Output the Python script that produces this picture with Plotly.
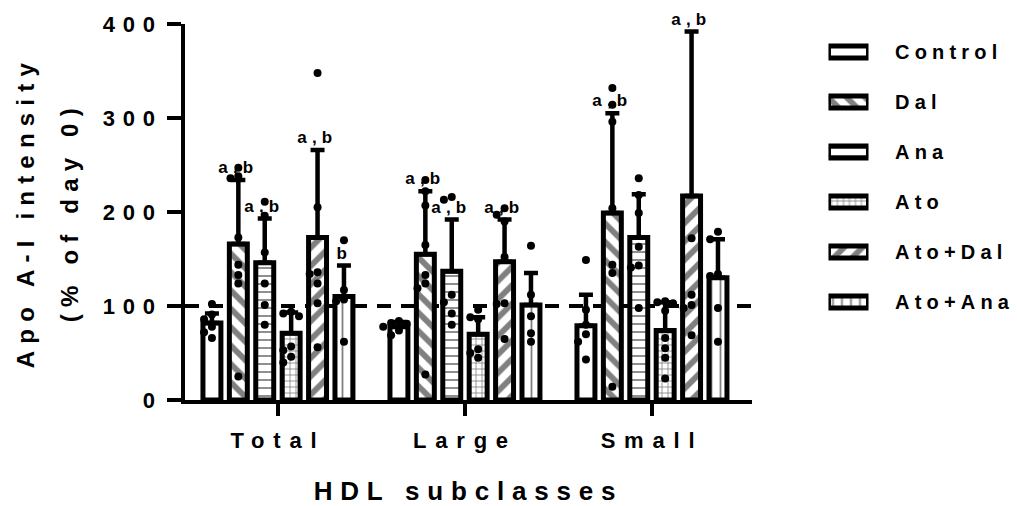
import plotly.graph_objects as go

# ---------------- data ----------------
categories = ["Total", "Large", "Small"]
groups = ["Control", "Dal", "Ana", "Ato", "Ato+Dal", "Ato+Ana"]

mean_control = [82, 78, 79]
mean_dal = [166, 155, 199]
mean_ana = [146, 137, 173]
mean_ato = [71, 70, 74]
mean_ato_dal = [173, 147, 217]
mean_ato_ana = [110, 101, 130]

sd_control = [10, 5, 33]
sd_dal = [68, 67, 106]
sd_ana = [47, 55, 46]
sd_ato = [22, 18, 30]
sd_ato_dal = [93, 45, 175]
sd_ato_ana = [33, 34, 41]

pts_control = [[102, 91, 86, 78, 72, 66], [84, 82, 81, 78, 74, 69], [149, 96, 80, 70, 62, 43]]
pts_dal = [[247, 238, 236, 173, 144, 133, 124, 25], [234, 222, 207, 165, 133, 124, 119, 27],
           [332, 314, 296, 204, 144, 135, 14]]
pts_ana = [[211, 196, 157, 124, 101, 80], [216, 213, 112, 104, 92, 80], [236, 218, 199, 163, 143, 141, 98]]
pts_ato = [[94, 92, 89, 57, 53, 46, 40], [96, 88, 86, 54, 50, 45], [105, 104, 103, 95, 66, 55, 45, 23]]
pts_ato_dal = [[348, 205, 136, 134, 124, 103, 56], [204, 197, 190, 152, 103, 102, 65], [172, 112, 101, 98, 69]]
pts_ato_ana = [[170, 117, 107, 105, 62], [164, 112, 89, 71, 62], [179, 171, 134, 132, 98, 62]]

sig_control = ["", "", ""]
sig_dal = ["a,b", "a,b", "a,b"]
sig_ana = ["a,b", "a,b", ""]
sig_ato = ["", "", ""]
sig_ato_dal = ["a,b", "a,b", "a,b"]
sig_ato_ana = ["b", "", ""]

reference_level = 100
y_ticks = [0, 100, 200, 300, 400]
y_title_lines = ["Apo A-I intensity", "(% of day 0)"]
x_title = "HDL subclasses"

means = [mean_control, mean_dal, mean_ana, mean_ato, mean_ato_dal, mean_ato_ana]
sds = [sd_control, sd_dal, sd_ana, sd_ato, sd_ato_dal, sd_ato_ana]
points = [pts_control, pts_dal, pts_ana, pts_ato, pts_ato_dal, pts_ato_ana]
sigs = [sig_control, sig_dal, sig_ana, sig_ato, sig_ato_dal, sig_ato_ana]

# ---------------- style ----------------
FONT = "Liberation Sans, Arial, Helvetica, sans-serif"
patterns = [
    dict(shape=""),
    dict(shape="\\", size=13, solidity=0.45, fgcolor="#808080", bgcolor="white", fillmode="replace"),
    dict(shape="-", size=8, solidity=0.22, fgcolor="#808080", bgcolor="white", fillmode="replace"),
    dict(shape="+", size=6, solidity=0.25, fgcolor="#808080", bgcolor="white", fillmode="replace"),
    dict(shape="/", size=13, solidity=0.45, fgcolor="#808080", bgcolor="white", fillmode="replace"),
    dict(shape="|", size=9, solidity=0.2, fgcolor="#808080", bgcolor="white", fillmode="replace"),
]

slot = 0.1412
bar_w = 0.096
offsets = [(k - (len(groups) - 1) / 2) * slot for k in range(len(groups))]
x_range = [-0.497, 2.535]


def swarm(vals, center, dx=0.042, dy=9.0):
    placed = []
    xs = []
    for v in vals:
        chosen = center
        for k in [0, -1, 1, -2, 2]:
            x = center + k * dx
            if all(abs(v - pv) >= dy or abs(x - px) >= dx * 0.99 for px, pv in placed):
                chosen = x
                break
        placed.append((chosen, v))
        xs.append(chosen)
    return xs


def bfont(size):
    return dict(family=FONT, size=size, color="black", weight="bold")


fig = go.Figure()

for k, g in enumerate(groups):
    xs = [i + offsets[k] for i in range(len(categories))]
    fig.add_trace(go.Bar(
        x=xs, y=means[k], width=bar_w, name=g, showlegend=False,
        marker=dict(color="white", line=dict(color="black", width=5), pattern=patterns[k]),
        error_y=dict(type="data", symmetric=False, array=sds[k], arrayminus=[0] * len(categories),
                     color="black", thickness=4.5, width=7),
    ))

for k, g in enumerate(groups):
    px_all, py_all = [], []
    for i in range(len(categories)):
        vals = points[k][i]
        px_all += swarm(vals, i + offsets[k])
        py_all += vals
    fig.add_trace(go.Scatter(
        x=px_all, y=py_all, mode="markers", showlegend=False,
        marker=dict(color="black", size=8, line=dict(width=0)),
    ))

annotations = []
# significance labels
for k in range(len(groups)):
    for i in range(len(categories)):
        if sigs[k][i]:
            annotations.append(dict(
                x=i + offsets[k], y=means[k][i] + sds[k][i], xref="x", yref="y",
                text=sigs[k][i], showarrow=False, yanchor="bottom", yshift=1,
                font=bfont(17),
            ))

# y axis title (two lines, widely spaced as in the original)
for j, (line, xp) in enumerate(zip(y_title_lines, [-0.1946, -0.1411])):
    annotations.append(dict(
        x=xp, y=0.5, xref="paper", yref="paper", text=line, showarrow=False,
        textangle=-90, xanchor="center", yanchor="middle", font=bfont(24),
    ))

# manual legend using an auxiliary axis pair
for k, g in enumerate(groups):
    fig.add_trace(go.Bar(
        x=[1], y=[k], base=0, orientation="h", width=0.24, xaxis="x2", yaxis="y2",
        showlegend=False, hoverinfo="skip",
        marker=dict(color="white", line=dict(color="black", width=5), pattern=patterns[k]),
    ))
    annotations.append(dict(
        x=0.861, y=k, xref="paper", yref="y2", text=g, showarrow=False, xanchor="left",
        align="left", yanchor="middle", font=bfont(20),
    ))

fig.add_shape(type="line", xref="x", yref="y", x0=x_range[0], x1=x_range[1],
              y0=reference_level, y1=reference_level, layer="below",
              line=dict(color="black", width=4, dash="14px,10px"))

fig.update_layout(
    width=1017, height=506,
    margin=dict(l=185, r=10, t=24, b=106, autoexpand=False),
    paper_bgcolor="white", plot_bgcolor="white",
    barmode="overlay",
    font=dict(family=FONT, color="black", weight="bold"),
    annotations=annotations,
    xaxis=dict(
        domain=[0, 0.6898], range=x_range, tickvals=list(range(len(categories))), ticktext=categories,
        showline=True, linecolor="black", linewidth=4, ticks="outside", ticklen=12, tickwidth=4,
        tickcolor="black", showgrid=False, zeroline=False, ticklabelstandoff=6, automargin=False,
        tickfont=bfont(22),
        title=dict(text=x_title, standoff=34, font=bfont(26)),
    ),
    yaxis=dict(
        range=[0, 400], tickvals=y_ticks, showline=True, linecolor="black", linewidth=4,
        ticks="outside", ticklen=14, tickwidth=4, tickcolor="black", showgrid=False, zeroline=False,
        automargin=False, tickfont=bfont(22),
    ),
    xaxis2=dict(domain=[0.7828, 0.8315], range=[0, 1], visible=False, anchor="y2", fixedrange=True),
    yaxis2=dict(domain=[0, 1], range=[6.96, -0.56], visible=False, anchor="x2", fixedrange=True),
)

css_js = """
document.body.style.margin = '0';
var st = document.createElement('style');
st.textContent = '.xtick text{letter-spacing:0.4em} .ytick text{letter-spacing:0.35em} '
  + '.xtitle{letter-spacing:0.3em} .annotation-text{letter-spacing:0.3em}';
document.head.appendChild(st);
document.querySelectorAll('.annotation-text').forEach(function(t){
  if (parseFloat(t.style.fontSize) === 20) { t.style.letterSpacing = '0.26em'; }
});
"""

fig.write_html("out.html", post_script=css_js, config={"displayModeBar": False})
